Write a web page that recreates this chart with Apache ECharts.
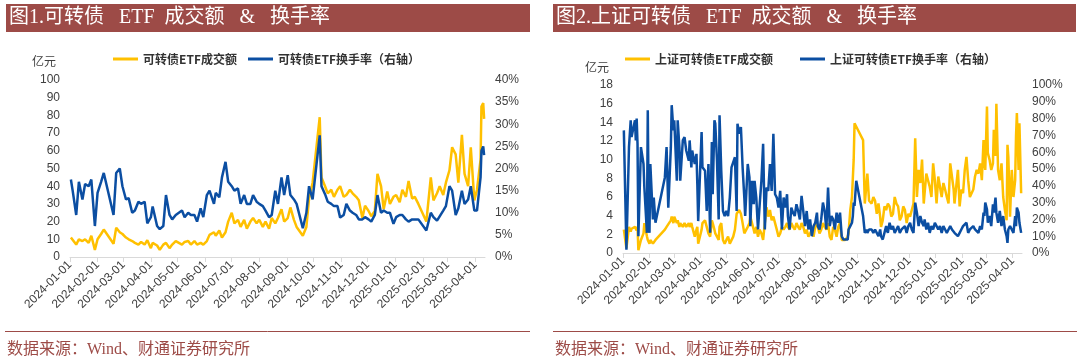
<!DOCTYPE html>
<html><head><meta charset="utf-8">
<script src="https://cdn.jsdelivr.net/npm/echarts@6/dist/echarts.min.js"></script>
<style>html,body{margin:0;padding:0;background:#fff}#c{width:1080px;height:360px}</style>
</head><body><div id="c"></div>
<script>
// ---------- tick labels ----------
const monthTicks = ['2024-01-01','2024-02-01','2024-03-01','2024-04-01','2024-05-01','2024-06-01','2024-07-01','2024-08-01','2024-09-01','2024-10-01','2024-11-01','2024-12-01','2025-01-01','2025-02-01','2025-03-01','2025-04-01'];

// ---------- chart 1: 可转债ETF ----------
const leftDates = ['2024-01-02','2024-01-04','2024-01-08','2024-01-11','2024-01-15','2024-01-18','2024-01-22','2024-01-25','2024-01-29',
'2024-02-01','2024-02-05','2024-02-08','2024-02-19','2024-02-22','2024-02-26','2024-02-29',
'2024-03-04','2024-03-07','2024-03-11','2024-03-14','2024-03-18','2024-03-21','2024-03-25','2024-03-28',
'2024-04-01','2024-04-03','2024-04-08','2024-04-11','2024-04-15','2024-04-18','2024-04-22','2024-04-25','2024-04-29',
'2024-05-06','2024-05-09','2024-05-13','2024-05-16','2024-05-20','2024-05-23','2024-05-27','2024-05-30',
'2024-06-03','2024-06-06','2024-06-11','2024-06-13','2024-06-17','2024-06-20','2024-06-24','2024-06-27',
'2024-07-01','2024-07-04','2024-07-08','2024-07-11','2024-07-15','2024-07-18','2024-07-22','2024-07-25','2024-07-29',
'2024-08-01','2024-08-05','2024-08-08','2024-08-12','2024-08-15','2024-08-19','2024-08-22','2024-08-26','2024-08-29',
'2024-09-02','2024-09-05','2024-09-09','2024-09-12','2024-09-19','2024-09-23','2024-09-26','2024-09-30',
'2024-10-08','2024-10-10','2024-10-14','2024-10-17','2024-10-21','2024-10-24','2024-10-28','2024-10-31',
'2024-11-04','2024-11-07','2024-11-11','2024-11-14','2024-11-18','2024-11-21','2024-11-25','2024-11-28',
'2024-12-02','2024-12-05','2024-12-09','2024-12-12','2024-12-16','2024-12-19','2024-12-23','2024-12-26','2024-12-30',
'2025-01-02','2025-01-06','2025-01-09','2025-01-13','2025-01-16','2025-01-20','2025-01-23','2025-01-27',
'2025-02-05','2025-02-10','2025-02-13','2025-02-17','2025-02-20','2025-02-24','2025-02-27',
'2025-03-03','2025-03-06','2025-03-10','2025-03-13','2025-03-17','2025-03-20','2025-03-24','2025-03-27','2025-03-31',
'2025-04-03','2025-04-07','2025-04-08','2025-04-10','2025-04-11'];
// 成交额 (亿元)
const leftAmount = [11,10,7,10,9,10,8,12,4,
10,13,15.5,7.5,16.5,14,13,
11,10,9,8,7,8.5,7,9.5,
5,8,6.5,4,7,8,5,7,9,
7,8.5,9,7,9,7,8,7,
9,12.5,14,12,15,11,14,20,
25,19,21,17,21,16,20,22,19,
21,17,20,16,22,19,22,27,20,
22,28,21,17,12,17,33,42,
79,45,40,36,38,34,38,40,
34,35,38,36,34,32,22,29,
26,23,26,47,40,27,37,30,34,
35,31,38,34,43,33,34,30,
20,45,32,36,40,35,42,
49,62,58,42,69,47,40,62,32,
38,55,85,87,78];
// 换手率 (%)
const leftTurnover = [17.5,15,9.5,17,13,16.5,16,17.5,7,
14.5,17,19,9.5,19,20,16,
13,13.3,10,10.5,12.5,12,12.5,7.6,
9,11.4,7,6.3,7,14,9.5,8.5,9.5,
10.5,9,10,9.5,9.5,8,11,9,
14,15,12,14.5,13.5,18,21.5,17,
16,15,15.5,12,14,12,12,14,12.5,
12,11.5,10.5,9,9.5,15,12,18,14,
18.5,14,13,12,6.5,10,16,13,
27.5,16,14.2,12.5,12,11.5,11.5,8.9,
9.5,12,10.5,10,9.5,8.5,8.5,9,
8.5,8,9.5,14,10,10.5,10,10,7.5,
9,9.5,9.5,8.5,8,8.5,8.5,8.5,
6,10,9,8.2,9.2,10.5,11.5,
16,15,9.5,11,15,12,13,16,10.5,
10.5,18,24,25,23];

// ---------- chart 2: 上证可转债ETF ----------
const rightDates = [
'2024-01-02','2024-01-05','2024-01-08','2024-01-10','2024-01-11','2024-01-15','2024-01-16','2024-01-17','2024-01-18','2024-01-19','2024-01-22','2024-01-25','2024-01-26','2024-01-29','2024-01-30','2024-01-31',
'2024-02-01','2024-02-02','2024-02-05','2024-02-06','2024-02-08','2024-02-19','2024-02-21','2024-02-23','2024-02-26','2024-02-27','2024-02-29',
'2024-03-01','2024-03-04','2024-03-05','2024-03-07','2024-03-08','2024-03-11','2024-03-13','2024-03-15','2024-03-18','2024-03-19','2024-03-21','2024-03-22','2024-03-25','2024-03-27','2024-03-28','2024-03-29',
'2024-04-02','2024-04-03','2024-04-06','2024-04-08','2024-04-10','2024-04-12','2024-04-14','2024-04-15','2024-04-17','2024-04-18','2024-04-20','2024-04-22','2024-04-23','2024-04-25','2024-04-27','2024-04-29',
'2024-05-01','2024-05-03','2024-05-05','2024-05-07','2024-05-09','2024-05-11','2024-05-13','2024-05-14','2024-05-16','2024-05-18','2024-05-20','2024-05-22','2024-05-23','2024-05-26','2024-05-28','2024-05-29','2024-05-31',
'2024-06-02','2024-06-03','2024-06-05','2024-06-07','2024-06-09','2024-06-11','2024-06-13','2024-06-15','2024-06-17','2024-06-19','2024-06-21','2024-06-23','2024-06-25','2024-06-27','2024-06-29',
'2024-07-01','2024-07-03','2024-07-05','2024-07-07','2024-07-09','2024-07-11','2024-07-12','2024-07-14','2024-07-16','2024-07-18','2024-07-20','2024-07-22','2024-07-24','2024-07-26','2024-07-28','2024-07-30',
'2024-08-01','2024-08-03','2024-08-05','2024-08-07','2024-08-09','2024-08-11','2024-08-13','2024-08-15','2024-08-16','2024-08-18','2024-08-20','2024-08-22','2024-08-24','2024-08-26','2024-08-28','2024-08-30',
'2024-09-01','2024-09-03','2024-09-05','2024-09-07','2024-09-09','2024-09-11','2024-09-13','2024-09-15','2024-09-17','2024-09-20','2024-09-21','2024-09-23','2024-09-25','2024-09-26','2024-09-27','2024-09-28','2024-09-30',
'2024-10-08','2024-10-10','2024-10-12','2024-10-13','2024-10-15','2024-10-18','2024-10-20','2024-10-22','2024-10-24','2024-10-26','2024-10-28','2024-10-29','2024-10-31',
'2024-11-02','2024-11-04','2024-11-06','2024-11-08','2024-11-10','2024-11-12','2024-11-14','2024-11-16','2024-11-18','2024-11-20','2024-11-22','2024-11-24','2024-11-26','2024-11-28','2024-11-30',
'2024-12-02','2024-12-04','2024-12-06','2024-12-08','2024-12-10','2024-12-12','2024-12-14','2024-12-16','2024-12-18','2024-12-19','2024-12-21','2024-12-23','2024-12-25','2024-12-27','2024-12-29','2024-12-31',
'2025-01-02','2025-01-04','2025-01-06','2025-01-08','2025-01-10','2025-01-12','2025-01-14','2025-01-16','2025-01-18','2025-01-20','2025-01-22','2025-01-23','2025-01-25','2025-01-27','2025-01-29','2025-01-31',
'2025-02-02','2025-02-04','2025-02-06','2025-02-08','2025-02-10','2025-02-12','2025-02-14','2025-02-16','2025-02-18','2025-02-20','2025-02-22','2025-02-24','2025-02-26','2025-02-27','2025-02-28',
'2025-03-02','2025-03-03','2025-03-05','2025-03-07','2025-03-09','2025-03-10','2025-03-12','2025-03-13','2025-03-15','2025-03-17','2025-03-19','2025-03-21','2025-03-23','2025-03-25','2025-03-26','2025-03-27','2025-03-29','2025-03-31',
'2025-04-02','2025-04-04','2025-04-05','2025-04-06','2025-04-08','2025-04-09','2025-04-11'];
// 成交额 (亿元)
const rightAmount = [
2.5,0.5,2.8,2.3,2.6,2.8,2.6,2.4,2.8,0.3,1.4,2.1,3.2,1.8,1.4,1.2,
1.0,1.4,1.0,1.2,1.4,2.5,2.8,2.8,3.5,3.9,3.2,
3.9,3.2,3.5,2.8,3.2,2.8,3.2,2.8,3.2,2.8,3.2,2.8,1.75,2.5,2.8,1.0,
2.5,3.2,3.5,2.8,2.1,1.75,3.5,3.2,2.5,2.1,1.75,1.4,2.8,3.2,1.4,1.0,
1.4,1.75,1.0,1.0,1.75,2.5,4.2,4.4,4.6,4.2,3.2,2.1,2.1,2.8,3.2,3.9,3.2,
2.5,2.1,2.8,1.75,2.5,2.1,1.4,3.2,4.9,3.9,4.6,3.5,3.9,3.2,2.5,
1.75,2.1,2.8,2.5,2.8,3.2,2.8,2.5,3.2,2.8,2.5,3.2,2.8,2.5,3.2,2.8,
2.1,2.5,1.75,2.1,2.5,1.75,2.8,3.2,2.8,2.1,2.5,3.2,2.8,2.5,3.2,1.75,
1.4,2.8,2.5,1.75,2.8,3.2,1.4,1.4,1.4,1.75,2.1,4.6,6.0,6.0,10,13.9,13.9,
12.1,5.3,5.3,8.5,5.6,5.3,6.0,5.6,4.2,5.3,3.9,2.8,3.5,
5.0,4.6,5.3,5.0,3.9,4.2,6.0,5.3,5.0,3.5,3.9,5.0,4.6,3.2,4.2,
3.9,3.9,5.3,12.3,6.0,8.9,7.5,10.0,5.3,6.4,8.5,7.8,7.1,6.0,9.6,7.8,
5.3,8.2,7.1,6.0,7.5,6.8,6.0,5.3,9.6,8.2,6.8,5.3,7.1,8.9,5.0,6.8,
6.4,8.9,10.3,7.8,6.0,6.0,6.8,8.2,8.9,8.5,9.6,7.8,12.1,9.6,8.9,
15.7,10.7,10.0,8.9,9.6,13.2,10.4,16.0,8.9,7.8,9.6,6.0,4.6,3.5,11.6,10.3,3.9,8.9,
6.0,7.8,12.5,15.0,8.9,13.9,6.4];
// 换手率 (%)
const rightTurnover = [
73,2,63,79,69,79,67,80,65,10,63,53,39,12,85,30,
12,53,20,33,18,45,63,27,63,88,73,
79,43,79,63,43,67,69,61,55,67,51,61,53,59,41,19,
72,51,49,25,53,12,66,35,79,77,55,20,82,49,25,22,
25,22,33,51,51,57,25,77,71,75,51,33,22,53,45,16,43,
29,43,33,14,29,43,65,14,39,37,53,37,71,35,33,
27,37,14,33,27,35,22,14,27,24,22,29,25,20,34,33,
16,25,14,20,10,16,18,24,16,14,20,30,25,14,39,16,
22,20,14,24,18,24,10,8,8,8,14,16,18,22,30,28,43,
22,12,14,12,14,14,12,14,12,10,14,10,8,
12,16,12,18,14,16,12,14,16,12,14,14,16,12,16,
18,14,12,30,24,16,22,18,16,20,14,18,12,16,14,18,
16,14,16,12,16,14,12,14,16,14,14,12,11,10,12,14,
16,16,18,12,14,14,16,14,14,12,16,14,24,22,30,
26,18,22,16,29,24,33,24,18,25,16,22,14,10,6,14,16,14,
12,22,16,27,24,18,12];

// ---------- drawing ----------
const YELLOW = '#FFC000', BLUE = '#0B4EA2', BRAND = '#9D4B47', GREY = '#404040';
const T = s => { const p = s.split('-').map(Number); return Date.UTC(p[0], p[1] - 1, p[2]); };
const tickVals = monthTicks.map(T);
const pair = (dates, vals) => dates.map((d, i) => [T(d), vals[i]]);
const fmtDate = v => { const d = new Date(v); const m = d.getUTCMonth() + 1, dd = d.getUTCDate();
  return d.getUTCFullYear() + '-' + (m < 10 ? '0' : '') + m + '-' + (dd < 10 ? '0' : '') + dd; };
const serifCJK = "'Liberation Serif','Noto Sans CJK SC'";
const labelFont = "'Liberation Sans', Arial, sans-serif";

function xAxisFor(gi) {
  return {
    type: 'value', gridIndex: gi, min: T('2024-01-01'), max: T('2025-04-12'), scale: true,
    axisLine: { show: true, onZero: false, lineStyle: { color: '#D9D9D9', width: 1 } },
    axisTick: { show: true, length: 5, lineStyle: { color: '#D9D9D9' }, customValues: tickVals },
    axisLabel: { rotate: 45, fontSize: 12, color: GREY, fontFamily: labelFont, margin: 6,
      customValues: tickVals, hideOverlap: false, formatter: fmtDate },
    splitLine: { show: false }
  };
}
function yAxisFor(gi, pos, max, interval, pct) {
  return {
    type: 'value', gridIndex: gi, position: pos, min: 0, max: max, interval: interval,
    axisLine: { show: false }, axisTick: { show: false }, splitLine: { show: false },
    axisLabel: { fontSize: 12, color: GREY, fontFamily: labelFont, margin: 10,
      formatter: pct ? '{value}%' : '{value}' }
  };
}
const legendBase = { icon: 'rect', itemWidth: 25, itemHeight: 3, padding: 0, top: 53,
  textStyle: { fontSize: 12, fontWeight: 'bold', color: '#333', fontFamily: "'Noto Sans CJK SC'" } };
const lineBase = (color) => ({ type: 'line', showSymbol: false, symbol: 'none',
  lineStyle: { color: color, width: 2.5 }, itemStyle: { color: color }, z: 2 });

const chart = echarts.init(document.getElementById('c'), null, { renderer: 'canvas' });
chart.setOption({
  animation: false,
  backgroundColor: '#fff',
  grid: [
    { left: 70, top: 80, width: 415, height: 177 },
    { left: 623, top: 85, width: 399, height: 168 }
  ],
  xAxis: [xAxisFor(0), xAxisFor(1)],
  yAxis: [
    yAxisFor(0, 'left', 100, 10, false),
    yAxisFor(0, 'right', 40, 5, true),
    yAxisFor(1, 'left', 18, 2, false),
    yAxisFor(1, 'right', 100, 10, true)
  ],
  legend: [
    Object.assign({}, legendBase, { left: 113, data: ['可转债ETF成交额'] }),
    Object.assign({}, legendBase, { left: 248, data: ['可转债ETF换手率（右轴）'] }),
    Object.assign({}, legendBase, { left: 625, data: ['上证可转债ETF成交额'] }),
    Object.assign({}, legendBase, { left: 800, data: ['上证可转债ETF换手率（右轴）'] })
  ],
  series: [
    Object.assign(lineBase(YELLOW), { name: '可转债ETF成交额', xAxisIndex: 0, yAxisIndex: 0, data: pair(leftDates, leftAmount) }),
    Object.assign(lineBase(BLUE), { name: '可转债ETF换手率（右轴）', xAxisIndex: 0, yAxisIndex: 1, data: pair(leftDates, leftTurnover), z: 3 }),
    Object.assign(lineBase(YELLOW), { name: '上证可转债ETF成交额', xAxisIndex: 1, yAxisIndex: 2, data: pair(rightDates, rightAmount) }),
    Object.assign(lineBase(BLUE), { name: '上证可转债ETF换手率（右轴）', xAxisIndex: 1, yAxisIndex: 3, data: pair(rightDates, rightTurnover), z: 3 })
  ],
  graphic: [
    { type: 'rect', shape: { x: 6, y: 4, width: 524, height: 28 }, style: { fill: BRAND }, silent: true },
    { type: 'rect', shape: { x: 553, y: 4, width: 523, height: 28 }, style: { fill: BRAND }, silent: true },
    { type: 'text', x: 9, y: 18, style: { text: '图1.可转债   ETF  成交额   &   换手率', fill: '#fff', font: '20px ' + serifCJK, verticalAlign: 'middle' } },
    { type: 'text', x: 556, y: 18, style: { text: '图2.上证可转债   ETF  成交额   &   换手率', fill: '#fff', font: '20px ' + serifCJK, verticalAlign: 'middle' } },
    { type: 'text', x: 44, y: 61, style: { text: '亿元', fill: GREY, font: "12px 'Noto Sans CJK SC'", align: 'center', verticalAlign: 'middle' } },
    { type: 'text', x: 597, y: 67, style: { text: '亿元', fill: GREY, font: "12px 'Noto Sans CJK SC'", align: 'center', verticalAlign: 'middle' } },
    { type: 'line', shape: { x1: 5, y1: 331.5, x2: 530, y2: 331.5 }, style: { stroke: BRAND, lineWidth: 1 } },
    { type: 'line', shape: { x1: 553, y1: 331.5, x2: 1077, y2: 331.5 }, style: { stroke: BRAND, lineWidth: 1 } },
    { type: 'text', x: 7, y: 350, style: { text: '数据来源：Wind、财通证券研究所', fill: BRAND, font: '16px ' + serifCJK, verticalAlign: 'middle' } },
    { type: 'text', x: 555, y: 350, style: { text: '数据来源：Wind、财通证券研究所', fill: BRAND, font: '16px ' + serifCJK, verticalAlign: 'middle' } }
  ]
});
</script>
</body></html>
